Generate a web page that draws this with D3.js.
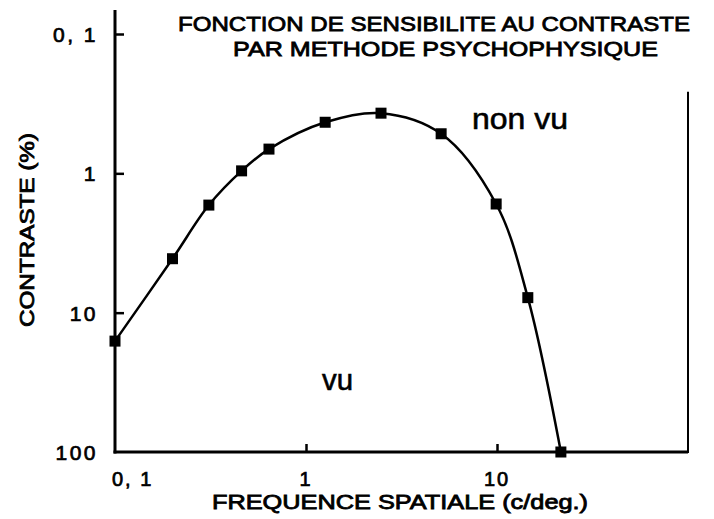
<!DOCTYPE html>
<html>
<head>
<meta charset="utf-8">
<script src="https://cdn.jsdelivr.net/npm/d3@7"></script>
<style>
  body { margin: 0; background: #fff; }
  text { font-family: "Liberation Sans", Arial, sans-serif; fill: #000; }
</style>
</head>
<body>
<svg id="chart"></svg>
<script>
var frequencies = [0.1, 0.2, 0.31, 0.46, 0.64, 1.26, 2.47, 5.1, 9.9, 14.5, 21.6];
var contrasts = [16, 4.1, 1.69, 0.96, 0.67, 0.43, 0.37, 0.52, 1.66, 7.8, 100];
var xTicks = [0.1, 1, 10];
var xTickLabels = ["0, 1", "1", "10"];
var yTicks = [0.1, 1, 10, 100];
var yTickLabels = ["0, 1", "1", "10", "100"];
var titleLines = ["FONCTION DE SENSIBILITE AU CONTRASTE", "PAR METHODE PSYCHOPHYSIQUE"];

var dimensions = {
  width: 714,
  height: 519,
  margin: { top: 34, right: 26, bottom: 67, left: 115 },
};

var svg = d3
  .select("#chart")
  .attr("width", dimensions.width)
  .attr("height", dimensions.height);

var xScale = d3
  .scaleLog()
  .domain([0.1, 100])
  .range([dimensions.margin.left, dimensions.width - dimensions.margin.right]);

var yScale = d3
  .scaleLog()
  .domain([0.1, 100])
  .range([dimensions.margin.top, dimensions.height - dimensions.margin.bottom]);

var data = frequencies.map((f, i) => ({ x: f, y: contrasts[i] }));

// frame lines
svg
  .append("line")
  .attr("x1", xScale(0.1))
  .attr("x2", xScale(0.1))
  .attr("y1", yScale(0.1) - 24)
  .attr("y2", yScale(100) + 1.5)
  .attr("stroke", "#000")
  .attr("stroke-width", 3);

svg
  .append("line")
  .attr("x1", xScale(0.1) - 1.5)
  .attr("x2", xScale(100))
  .attr("y1", yScale(100))
  .attr("y2", yScale(100))
  .attr("stroke", "#000")
  .attr("stroke-width", 3);

svg
  .append("line")
  .attr("x1", xScale(100))
  .attr("x2", xScale(100))
  .attr("y1", yScale(0.26))
  .attr("y2", yScale(100) + 1)
  .attr("stroke", "#000")
  .attr("stroke-width", 2);

// ticks
var yAxis = svg
  .append("g")
  .attr("transform", `translate(${xScale(0.1)},0)`)
  .call(
    d3.axisLeft(yScale)
      .tickValues(yTicks.slice(0, 3))
      .tickSizeInner(-9)
      .tickSizeOuter(0)
      .tickFormat("")
  );
yAxis.select(".domain").remove();
yAxis.selectAll(".tick line").attr("stroke", "#000").attr("stroke-width", 2.5);

var xAxis = svg
  .append("g")
  .attr("transform", `translate(0,${yScale(100)})`)
  .call(
    d3.axisBottom(xScale)
      .tickValues(xTicks.slice(1))
      .tickSizeInner(-8)
      .tickSizeOuter(0)
      .tickFormat("")
  );
xAxis.select(".domain").remove();
xAxis.selectAll(".tick line").attr("stroke", "#000").attr("stroke-width", 2.5);

// tick labels
svg
  .selectAll(".ylabel")
  .data(yTicks)
  .enter()
  .append("text")
  .attr("class", "ylabel")
  .attr("x", xScale(0.1) - 17)
  .attr("y", (d) => yScale(d) + 8)
  .attr("text-anchor", "end")
  .attr("font-size", 21)
  .attr("letter-spacing", 2.5)
  .attr("stroke", "#000")
  .attr("stroke-width", 0.7)
  .text((d, i) => yTickLabels[i]);

svg
  .selectAll(".xlabel")
  .data(xTicks)
  .enter()
  .append("text")
  .attr("class", "xlabel")
  .attr("x", (d, i) => (i === 0 ? xScale(d) - 3 : xScale(d)))
  .attr("y", yScale(100) + 34)
  .attr("text-anchor", (d, i) => (i === 0 ? "start" : "middle"))
  .attr("font-size", 20)
  .attr("letter-spacing", 2)
  .attr("stroke", "#000")
  .attr("stroke-width", 0.7)
  .text((d, i) => xTickLabels[i]);

// curve
var line = d3
  .line()
  .x((d) => xScale(d.x))
  .y((d) => yScale(d.y))
  .curve(d3.curveCatmullRom.alpha(0.5));

svg
  .append("path")
  .datum(data)
  .attr("d", line)
  .attr("fill", "none")
  .attr("stroke", "#000")
  .attr("stroke-width", 2.5);

var markerSize = 11;
svg
  .selectAll(".pt")
  .data(data)
  .enter()
  .append("rect")
  .attr("class", "pt")
  .attr("x", (d) => xScale(d.x) - markerSize / 2)
  .attr("y", (d) => yScale(d.y) - markerSize / 2)
  .attr("width", markerSize)
  .attr("height", markerSize)
  .attr("fill", "#000");

// titles and labels
var titleBoxes = [
  { x: 178, y: 31, len: 512 },
  { x: 233, y: 56, len: 425 },
];
svg
  .selectAll(".title")
  .data(titleLines)
  .enter()
  .append("text")
  .attr("class", "title")
  .attr("x", (d, i) => titleBoxes[i].x)
  .attr("y", (d, i) => titleBoxes[i].y)
  .attr("font-size", 21)
  .attr("stroke", "#000")
  .attr("stroke-width", 0.8)
  .attr("textLength", (d, i) => titleBoxes[i].len)
  .attr("lengthAdjust", "spacingAndGlyphs")
  .text((d) => d);

svg
  .append("text")
  .attr("x", 212)
  .attr("y", 509)
  .attr("font-size", 20)
  .attr("stroke", "#000")
  .attr("stroke-width", 0.8)
  .attr("textLength", 376)
  .attr("lengthAdjust", "spacingAndGlyphs")
  .text("FREQUENCE SPATIALE (c/deg.)");

svg
  .append("text")
  .attr("transform", "translate(34,230) rotate(-90)")
  .attr("text-anchor", "middle")
  .attr("font-size", 20)
  .attr("stroke", "#000")
  .attr("stroke-width", 0.8)
  .attr("textLength", 194)
  .attr("lengthAdjust", "spacingAndGlyphs")
  .text("CONTRASTE (%)");

svg
  .append("text")
  .attr("x", 472)
  .attr("y", 129)
  .attr("font-size", 30)
  .attr("stroke", "#000")
  .attr("stroke-width", 0.6)
  .attr("textLength", 96)
  .attr("lengthAdjust", "spacingAndGlyphs")
  .text("non vu");

svg
  .append("text")
  .attr("x", 322)
  .attr("y", 390)
  .attr("font-size", 30)
  .attr("stroke", "#000")
  .attr("stroke-width", 0.6)
  .attr("textLength", 31)
  .attr("lengthAdjust", "spacingAndGlyphs")
  .text("vu");
</script>
</body>
</html>
